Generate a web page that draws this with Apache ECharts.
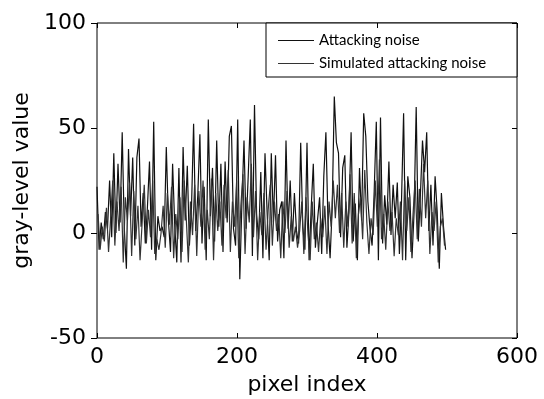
<!DOCTYPE html>
<html>
<head>
<meta charset="utf-8">
<script src="https://cdn.jsdelivr.net/npm/echarts@6/dist/echarts.min.js"></script>
<style>
  html, body { margin: 0; padding: 0; background: #fff; }
  #main { width: 544px; height: 399px; }
</style>
</head>
<body>
<div id="main"></div>
<script>
    // axis ticks
    var xTicks = [0, 200, 400, 600];
    var yTicks = [-50, 0, 50, 100];

    // pixel index of the first sample and the spacing between samples
    var attackStart = 0, simStart = 1.5, sampleStep = 3;

    // gray-level values (Attacking noise)
    var attackNoise = [
        22, -8, 5, -3, 10, 2, 25, -2, 38, 0, 33, 5, 48, 2, -17, 40, 8, 36, -6, 36,
        45, 3, 19, -5, 12, 34, -8, 53, -13, 8, 1, 3, -2, 41, 6, -9, 33, 4, -14, 31,
        -14, 41, 6, 32, -6, 12, 52, 1, 18, 47, -5, 22, -13, 54, 8, 31, -4, 44, 3, 33,
        -9, 34, 5, 46, 51, 2, -6, 54, -22, 14, 44, 2, 27, 54, -11, 61, 9, -3, 29, -12,
        38, 10, -13, 38, 5, 37, -4, 11, 15, -12, 44, 2, 25, -4, 19, 1, -5, 43, 3, -8,
        43, -13, 12, 33, -7, 6, 17, -10, 27, 48, 5, -12, 12, 65, 43, 38, -2, 31, 37, -7,
        10, 48, -4, 14, -13, 31, 6, 57, 46, 15, 2, -6, 20, 53, -13, 55, -5, 18, 4, 34,
        -1, 23, 7, 24, -10, 15, 57, -13, 27, 17, -12, 10, 60, -4, 18, 44, 29, 48, 1, 23,
        -6, 27, 10, -17, 19, 3, -8
    ];

    // gray-level values (Simulated attacking noise)
    var simNoise = [
        9, -8, 3, -4, 12, -9, 7, 25, -6, 15, 1, 22, -14, 17, 6, 24, -11, 20, -3, 13,
        -13, 5, 23, -5, 11, -2, 25, -10, -3, -8, 0, 13, -7, 19, 4, 22, -12, 9, -3, 17,
        -9, 25, 7, -14, 15, -1, 23, -11, 20, 3, 25, -8, 11, -3, 26, -13, 19, 1, 15, -6,
        23, 7, 30, -9, 15, 3, 25, -12, 13, 28, -10, 17, 5, 33, -2, 20, -13, 10, -1, 19,
        -8, 11, 23, -6, 15, 1, 9, -12, 15, 0, 20, -7, 8, -4, 3, -7, 1, 15, -10, 17,
        -1, -13, 15, -3, 5, -9, 7, -2, 13, -10, 15, 3, 25, 7, 23, 0, 19, -7, 15, 3,
        28, -5, 19, -12, 9, 17, -3, 30, 5, -10, 7, -1, 25, 3, 35, -3, 9, -8, 15, 1,
        10, -11, 7, -1, 15, -13, 25, 1, 17, -9, 9, 25, -3, 21, 3, 33, 7, 25, -10, 10,
        1, 15, -14, 3, 7, -6
    ];

    var legendNames = ['Attacking noise', 'Simulated attacking noise'];

    function toPairs(start, values) {
        var out = [];
        for (var i = 0; i < values.length; i++) {
            out.push([start + i * sampleStep, values[i]]);
        }
        return out;
    }

    var axisFont = { fontFamily: 'DejaVu Sans', fontSize: 22, color: '#000' };
    var noLine = { show: false, onZero: false };

    var option = {
        animation: false,
        backgroundColor: '#fff',
        grid: {
            left: 97, right: 27, top: 23, bottom: 61,
            outerBoundsMode: 'none',
            containLabel: false,
            show: true, borderColor: '#000', borderWidth: 1, backgroundColor: 'transparent'
        },
        legend: {
            orient: 'vertical',
            left: 278,
            top: 32,
            icon: 'rect',
            itemWidth: 36,
            itemHeight: 1,
            itemGap: 6,
            padding: 0,
            data: legendNames,
            textStyle: { fontFamily: 'Lato', fontSize: 15, lineHeight: 17, color: '#000' }
        },
        graphic: [{
            type: 'rect',
            shape: { x: 266, y: 23, width: 251, height: 54 },
            style: { fill: '#fff', stroke: '#000', lineWidth: 1 },
            z: 0, zlevel: 0
        }],
        xAxis: [{
            type: 'value',
            min: xTicks[0], max: xTicks[xTicks.length - 1], interval: 200,
            name: 'pixel index', nameLocation: 'middle', nameGap: 36,
            nameTextStyle: axisFont,
            axisLine: noLine,
            axisTick: { show: true, inside: true, length: 5, lineStyle: { color: '#000' } },
            axisLabel: Object.assign({ margin: 8 }, axisFont),
            splitLine: { show: false }
        }, {
            type: 'value', position: 'top',
            min: xTicks[0], max: xTicks[xTicks.length - 1], interval: 200,
            axisLine: noLine,
            axisTick: { show: true, inside: true, length: 5, lineStyle: { color: '#000' } },
            axisLabel: { show: false },
            splitLine: { show: false }
        }],
        yAxis: [{
            type: 'value',
            min: yTicks[0], max: yTicks[yTicks.length - 1], interval: 50,
            name: 'gray-level value', nameLocation: 'middle', nameGap: 62,
            nameTextStyle: axisFont,
            axisLine: noLine,
            axisTick: { show: true, inside: false, length: 6, lineStyle: { color: '#000' } },
            axisLabel: Object.assign({ margin: 11 }, axisFont),
            splitLine: { show: false }
        }, {
            type: 'value', position: 'right',
            min: yTicks[0], max: yTicks[yTicks.length - 1], interval: 50,
            axisLine: noLine,
            axisTick: { show: true, inside: true, length: 5, lineStyle: { color: '#000' } },
            axisLabel: { show: false },
            splitLine: { show: false }
        }],
        series: [{
            name: legendNames[0],
            type: 'line',
            symbol: 'none',
            z: 1,
            lineStyle: { color: '#111', width: 1.2 },
            itemStyle: { color: '#111' },
            data: toPairs(attackStart, attackNoise)
        }, {
            name: legendNames[1],
            type: 'line',
            symbol: 'none',
            z: 1,
            lineStyle: { color: '#333', width: 1.2 },
            itemStyle: { color: '#333' },
            data: toPairs(simStart, simNoise)
        }]
    };

    var myChart = echarts.init(document.getElementById('main'));
    myChart.setOption(option);
</script>
</body>
</html>
